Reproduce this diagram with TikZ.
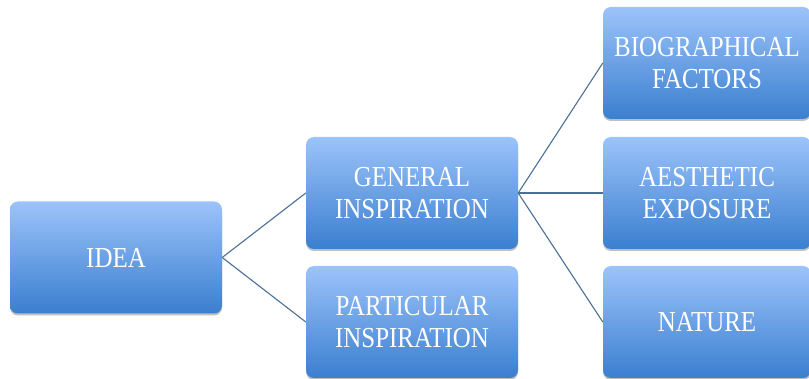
\documentclass[tikz,border=0pt]{standalone}
\usepackage{fontspec}
\setmainfont{Liberation Serif}[FakeStretch=0.86]
\usetikzlibrary{shadows}
\definecolor{boxtop}{HTML}{9CC3FA}
\definecolor{boxbot}{HTML}{3A7FCF}
\definecolor{linkc}{HTML}{4B6E96}
\begin{document}
\begin{tikzpicture}[x=1pt,y=-1pt,
  box/.style={rectangle, rounded corners=8pt, minimum width=212pt, minimum height=112pt,
    top color=boxtop, bottom color=boxbot, draw=none,
    drop shadow={shadow xshift=0pt, shadow yshift=-2pt, fill=black, opacity=0.25},
    text=white, align=center, font=\fontsize{29}{32}\selectfont, inner sep=0pt},
  link/.style={draw=linkc, line width=1.1pt}]
\useasboundingbox (0,0) rectangle (809,379);
\node[box] (idea) at (116,257.5) {IDEA};
\node[box] (gen) at (412,193) {GENERAL\\INSPIRATION};
\node[box] (par) at (412,322) {PARTICULAR\\INSPIRATION};
\node[box, minimum width=208pt] (bio) at (707,63) {BIOGRAPHICAL\\FACTORS};
\node[box, minimum width=208pt] (aes) at (707,193) {AESTHETIC\\EXPOSURE};
\node[box, minimum width=208pt] (nat) at (707,322) {NATURE};
\draw[link] (idea.east) -- (gen.west);
\draw[link] (idea.east) -- (par.west);
\draw[link] (gen.east) -- (bio.west);
\draw[link] (gen.east) -- (aes.west);
\draw[link] (gen.east) -- (nat.west);
\end{tikzpicture}
\end{document}
